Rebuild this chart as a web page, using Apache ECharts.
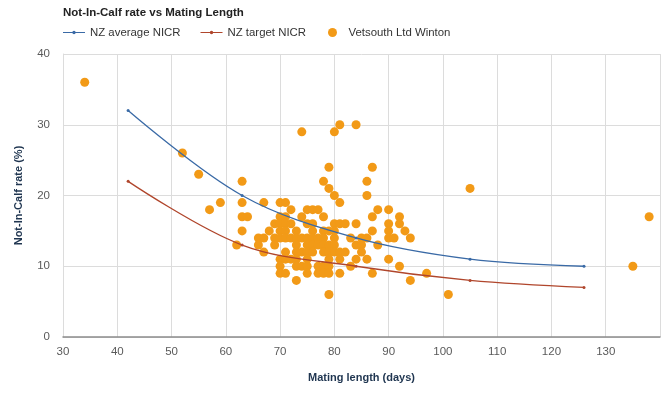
<!DOCTYPE html>
<html>
<head>
<meta charset="utf-8">
<script src="https://cdn.jsdelivr.net/npm/echarts@6/dist/echarts.min.js"></script>
<style>html,body{margin:0;padding:0;background:#fff}#chart{width:668px;height:393px}</style>
</head>
<body>
<div id="chart"></div>
<script>
var chartTitle = 'Not-In-Calf rate vs Mating Length';
var seriesNames = ['NZ average NICR', 'NZ target NICR', 'Vetsouth Ltd Winton'];
var xTicks = [30, 40, 50, 60, 70, 80, 90, 100, 110, 120, 130];
var yTicks = [0, 10, 20, 30, 40];
var benchmarkDays = [42, 63, 84, 105, 126];
var nzAverage = [32, 20, 14, 11, 10];
var nzTarget = [22, 13, 10, 8, 7];
var vetsouthPoints = [
  [34,36],[52,26],[55,23],[57,18],[59,19],[62,13],[63,22],[63,19],[63,17],[64,17],[63,15],
  [66,14],[67,14],[66,13],[67,12],[67,19],[68,15],
  [70,19],[71,19],
  [72,18],[75,18],[76,18],[77,18],
  [70,17],[71,17],[74,17],[78,17],
  [69,16],[70,16],[71,16],[72,16],[75,16],[76,16],
  [70,15],[71,15],[73,15],[76,15],
  [69,14],[70,14],[71,14],[72,14],[73,14],[74,14],[75,14],[76,14],[77,14],
  [69,13],[73,13],[75,13],[76,13],[77,13],
  [71,12],[73,12],[74,12],[75,12],[76,12],
  [70,11],[71,11],[72,11],[73,11],[75,11],
  [70,10],[73,10],[74,10],[75,10],
  [70,9],[71,9],[75,9],[77,9],
  [73,8],
  [74,29],[80,29],[81,30],[84,30],[79,24],[87,24],[78,22],[86,22],[79,21],[80,20],[86,20],[81,19],[105,21],
  [88,18],[90,18],
  [87,17],[92,17],
  [80,16],[81,16],[82,16],[84,16],[90,16],[92,16],
  [78,15],[79,15],[80,15],[87,15],[90,15],[93,15],
  [78,14],[80,14],[83,14],[85,14],[86,14],[90,14],[91,14],[94,14],
  [78,13],[79,13],[80,13],[84,13],[85,13],[88,13],
  [78,12],[79,12],[80,12],[81,12],[82,12],[85,12],
  [79,11],[81,11],[84,11],[86,11],[90,11],
  [77,10],[78,10],[79,10],[83,10],[92,10],
  [78,9],[79,9],[81,9],[87,9],
  [94,8],[79,6],
  [97,9],[101,6],[135,10],[138,17]
];

var FONT = '"Liberation Sans", Arial, sans-serif';
var LINE_ICON = 'path://M0,4.5L22,4.5L22,5.7L0,5.7Z M11,3.4A1.7,1.7 0 1,1 11,6.8A1.7,1.7 0 1,1 11,3.4Z';
var chart = echarts.init(document.getElementById('chart'), null, {renderer: 'canvas'});

function zip(xs, ys) { return xs.map(function (x, i) { return [x, ys[i]]; }); }

var legendText = {fontFamily: FONT, fontSize: 11.4, color: '#333333'};

chart.setOption({
  animation: false,
  backgroundColor: '#ffffff',
  textStyle: {fontFamily: FONT},
  title: {
    text: chartTitle,
    left: 63, top: 7, padding: 0,
    textStyle: {fontFamily: FONT, fontSize: 11.5, fontWeight: 'bold', color: '#222222'}
  },
  legend: [
    {
      left: 63, top: 27, padding: 0,
      itemWidth: 22, itemHeight: 9, itemGap: 20,
      symbolKeepAspect: true,
      textStyle: legendText,
      data: [
        {name: seriesNames[0], icon: LINE_ICON},
        {name: seriesNames[1], icon: LINE_ICON}
      ]
    },
    {
      left: 328, top: 27, padding: 0,
      itemWidth: 22, itemHeight: 9,
      symbolKeepAspect: true,
      textStyle: legendText,
      data: [{name: seriesNames[2], icon: 'circle'}]
    }
  ],
  grid: {left: 63, right: 8, top: 54, bottom: 56, containLabel: false},
  xAxis: {
    type: 'value', min: xTicks[0], max: 140, interval: 10,
    name: 'Mating length (days)', nameLocation: 'middle', nameGap: 35,
    nameTextStyle: {fontFamily: FONT, fontSize: 11, fontWeight: 'bold', color: '#1f3550'},
    axisLine: {show: true, lineStyle: {color: '#8c8c8c', width: 1.5}},
    axisTick: {show: false},
    axisLabel: {
      fontFamily: FONT, fontSize: 11.5, color: '#5a5a5a', margin: 9,
      formatter: function (v) { return xTicks.indexOf(v) >= 0 ? String(v) : ''; }
    },
    splitLine: {show: true, lineStyle: {color: '#dcdcdc', width: 1}}
  },
  yAxis: {
    type: 'value', min: yTicks[0], max: yTicks[yTicks.length - 1], interval: 10,
    name: 'Not-In-Calf rate (%)', nameLocation: 'middle', nameGap: 39,
    nameTextStyle: {fontFamily: FONT, fontSize: 11, fontWeight: 'bold', color: '#1f3550'},
    axisLine: {show: true, lineStyle: {color: '#dcdcdc', width: 1}},
    axisTick: {show: false},
    axisLabel: {fontFamily: FONT, fontSize: 11.5, color: '#5a5a5a', margin: 13},
    splitLine: {show: true, lineStyle: {color: '#dcdcdc', width: 1}}
  },
  series: [
    {
      name: seriesNames[0], type: 'line', smooth: 0.35,
      data: zip(benchmarkDays, nzAverage),
      symbol: 'circle', symbolSize: 3, showSymbol: true,
      lineStyle: {color: '#3a6aa6', width: 1.3},
      itemStyle: {color: '#3a6aa6'}, z: 3
    },
    {
      name: seriesNames[1], type: 'line', smooth: 0.35,
      data: zip(benchmarkDays, nzTarget),
      symbol: 'circle', symbolSize: 3, showSymbol: true,
      lineStyle: {color: '#b0462c', width: 1.3},
      itemStyle: {color: '#b0462c'}, z: 3
    },
    {
      name: seriesNames[2], type: 'scatter',
      data: vetsouthPoints,
      symbol: 'circle', symbolSize: 9,
      itemStyle: {color: '#f29a17', opacity: 1}, z: 2
    }
  ]
});
</script>
</body>
</html>
